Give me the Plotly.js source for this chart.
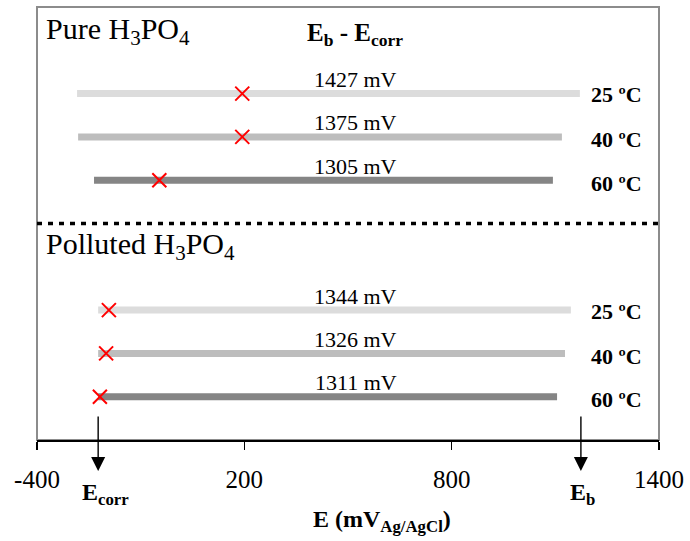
<!DOCTYPE html>
<html>
<head>
<meta charset="utf-8">
<script src="https://cdn.plot.ly/plotly-3.0.1.min.js"></script>
<style>html,body{margin:0;padding:0;background:#fff;}#chart{width:690px;height:541px;}</style>
</head>
<body>
<div id="chart"></div>
<script>
// Data (mV vs Ag/AgCl)
const groups = ['Pure', 'Pure', 'Pure', 'Polluted', 'Polluted', 'Polluted'];
const temperatures = ['25 ºC', '40 ºC', '60 ºC', '25 ºC', '40 ºC', '60 ºC'];
const rowPos = [8, 7, 6, 3, 2, 1];
const barStart = [-284, -281, -235, -223, -223, -223];
const barEnd = [1171, 1119, 1093, 1145, 1128, 1105];
const ecorrMark = [194, 194, -46, -192, -200, -218];
const deltaE = [1427, 1375, 1305, 1344, 1326, 1311];
const rowColors = ['#dcdcdc', '#bdbdbd', '#858585', '#dcdcdc', '#bdbdbd', '#858585'];
const xTicks = [-400, 200, 800, 1400];
const xRange = [-400, 1400];
const arrowEcorr = -223;
const arrowEb = 1174;
const labelX = 523;
const tempX = 1278;

const serif = 'Liberation Serif, Times New Roman, serif';
const traces = [];
for (let i = 0; i < rowPos.length; i++) {
  traces.push({
    type: 'scatter', mode: 'lines',
    x: [barStart[i], barEnd[i]], y: [rowPos[i], rowPos[i]],
    line: {color: rowColors[i], width: 7},
    hoverinfo: 'skip', showlegend: false
  });
}
traces.push({
  type: 'scatter', mode: 'markers',
  x: ecorrMark, y: rowPos,
  marker: {symbol: 'x-thin', size: 14, color: 'red', line: {color: 'red', width: 2}},
  hoverinfo: 'skip', showlegend: false, cliponaxis: false
});

const ann = [];
const H = 433; // plot height px
function py(px) { return (440 - px) / H; }
function txt(o) { o.showarrow = false; if (!o.xanchor) o.xanchor = 'center'; if (!o.yanchor) o.yanchor = 'middle'; ann.push(o); }
for (let i = 0; i < rowPos.length; i++) {
  txt({x: labelX, y: rowPos[i], xref: 'x', yref: 'y', text: deltaE[i] + ' mV',
    yshift: 14, font: {family: serif, size: 22, color: '#000'}});
  txt({x: tempX, y: rowPos[i], xref: 'x', yref: 'y', text: '<b>' + temperatures[i] + '</b>',
    yshift: i === 0 || i === 3 ? -1 : -3, font: {family: serif, size: 22, color: '#000'}});
}
txt({x: 0.012, y: py(31), xref: 'paper', yref: 'paper', xanchor: 'left', text: groups[0] + ' H<sub>3</sub>PO<sub>4</sub>',
  font: {family: serif, size: 30, color: '#000'}});
txt({x: 0.012, y: py(246), xref: 'paper', yref: 'paper', xanchor: 'left', text: groups[3] + ' H<sub>3</sub>PO<sub>4</sub>',
  font: {family: serif, size: 30, color: '#000'}});
txt({x: (355 - 37) / 622, y: py(34), xref: 'paper', yref: 'paper', text: '<b>E<sub>b</sub> - E<sub>corr</sub></b>',
  font: {family: serif, size: 25, color: '#000'}});
// arrows
[arrowEcorr, arrowEb].forEach(function (xv) {
  ann.push({x: xv, y: py(471), xref: 'x', yref: 'paper', ax: 0, ay: -56, axref: 'pixel', ayref: 'pixel',
    text: '', showarrow: true, arrowhead: 2, arrowsize: 2, arrowwidth: 1.4, arrowcolor: '#000'});
});
txt({x: arrowEcorr, y: py(494), xref: 'x', yref: 'paper', xshift: 7, text: '<b>E<sub>corr</sub></b>',
  font: {family: serif, size: 24, color: '#000'}});
txt({x: arrowEb, y: py(494), xref: 'x', yref: 'paper', xshift: 2, text: '<b>E<sub>b</sub></b>',
  font: {family: serif, size: 24, color: '#000'}});
txt({x: (382 - 37) / 622, y: py(521), xref: 'paper', yref: 'paper', text: '<b>E (mV<sub>Ag/AgCl</sub>)</b>',
  font: {family: serif, size: 24, color: '#000'}});

const layout = {
  width: 690, height: 541,
  margin: {l: 37, r: 31, t: 7, b: 101},
  paper_bgcolor: '#fff', plot_bgcolor: '#fff',
  showlegend: false,
  xaxis: {
    range: xRange, tickvals: xTicks, ticktext: xTicks.map(String),
    showgrid: false, zeroline: false, showline: true, linecolor: '#000', linewidth: 1.5,
    ticks: 'outside', ticklen: 8, tickwidth: 1.2, tickcolor: '#000', ticklabelstandoff: 8,
    tickfont: {family: serif, size: 25, color: '#000'}, fixedrange: true
  },
  yaxis: {range: [0, 10], visible: false, fixedrange: true},
  shapes: [
    {type: 'rect', xref: 'paper', yref: 'paper', x0: 0, x1: 1, y0: 0, y1: 1,
      line: {color: '#8c8c8c', width: 2}, layer: 'below'},
    {type: 'line', xref: 'paper', yref: 'y', x0: 0, x1: 1, y0: 5, y1: 5,
      line: {color: '#000', width: 3.5, dash: '5px,6px'}}
  ],
  annotations: ann
};
Plotly.newPlot('chart', traces, layout, {displayModeBar: false, staticPlot: true});
</script>
</body>
</html>
